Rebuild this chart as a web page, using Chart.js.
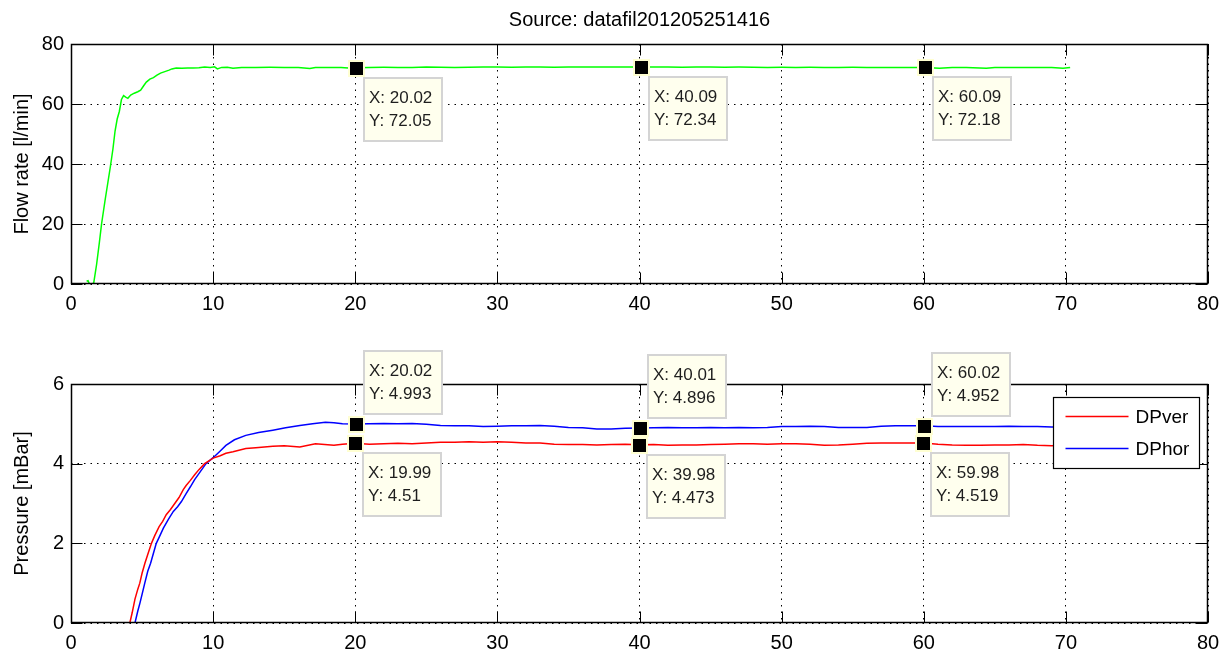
<!DOCTYPE html>
<html>
<head>
<meta charset="utf-8">
<script src="https://cdn.jsdelivr.net/npm/chart.js@4.4.0/dist/chart.umd.min.js"></script>
<style>
  html, body { margin: 0; padding: 0; background: #fff; }
  #wrap { position: relative; width: 1230px; height: 655px; }
  .panel { position: absolute; left: 0; width: 1230px; }
  #top-panel { top: 0; height: 320px; }
  #bottom-panel { top: 320px; height: 335px; }
</style>
</head>
<body>
<div id="wrap">
  <div class="panel" id="top-panel"><canvas id="flow-chart"></canvas></div>
  <div class="panel" id="bottom-panel"><canvas id="pressure-chart"></canvas></div>
</div>
<script>
const FONT = '"Liberation Sans", Arial, sans-serif';
const TITLE = "Source: datafil201205251416";

// flow rate (top)
const flowTime = [
  1.1, 1.2, 1.3, 1.5, 1.6, 1.8, 2.0, 2.15, 2.4, 2.6,
  2.75, 2.95, 3.1, 3.25, 3.4, 3.55, 3.7, 3.85, 4.0, 4.2,
  4.45, 4.7, 4.9, 5.1, 5.3, 5.55, 5.8, 6.05, 6.3, 6.6,
  6.9, 7.1, 7.4, 7.8, 8.2, 8.6, 9.0, 9.4, 9.8, 10.1,
  10.3, 10.6, 11, 11.4, 12, 13, 14, 15, 16, 16.8,
  17.2, 18, 19, 19.5, 20.02, 21, 22, 23, 24, 25,
  26, 27, 28, 29, 30, 31, 32, 33, 34, 35,
  36, 37, 38, 39, 40.09, 41, 42, 43, 44, 45,
  46, 47, 48, 49, 50, 51, 52, 53, 54, 55,
  56, 57, 58, 59, 60.09, 61.1, 62, 63, 64.4, 65,
  66, 67, 68, 69, 69.8, 70.3
];
const flowValues = [
  0.9, 1.1, 0, 0, 0.4, 6.5, 14, 20, 28, 34,
  38.5, 45, 51, 55, 57.5, 61.5, 62.8, 62.3, 61.9, 63.0,
  63.6, 64.1, 64.6, 66.0, 67.3, 68.3, 68.8, 69.6, 70.3, 70.8,
  71.3, 71.7, 72.0, 71.9, 72.0, 72.0, 72.1, 72.3, 72.2, 72.4,
  71.7, 72.2, 72.25, 71.9, 72.2, 72.2, 72.25, 72.2, 72.2, 71.8,
  72.2, 72.2, 72.15, 72.0, 72.05, 72.2, 72.25, 72.2, 72.2, 72.3,
  72.25, 72.2, 72.25, 72.3, 72.3, 72.25, 72.3, 72.3, 72.25, 72.3,
  72.3, 72.3, 72.35, 72.3, 72.34, 72.3, 72.3, 72.25, 72.3, 72.3,
  72.25, 72.3, 72.25, 72.2, 72.25, 72.2, 72.25, 72.2, 72.2, 72.25,
  72.2, 72.2, 72.15, 72.2, 72.18, 71.9, 72.2, 72.2, 71.9, 72.2,
  72.2, 72.2, 72.15, 72.2, 71.9, 72.2
];

// DPver (red)
const verTime = [
  4.14, 4.3, 4.5, 4.7, 4.84, 5.0, 5.2, 5.4, 5.66, 5.9,
  6.2, 6.45, 6.7, 7.0, 7.3, 7.6, 7.9, 8.1, 8.4, 8.7,
  9.0, 9.4, 9.7, 10, 10.5, 10.9, 11.4, 12.3, 13, 14.2,
  15, 16.1, 17.2, 18.5, 19.1, 19.99, 21, 22, 23, 24,
  25, 26, 27, 28, 29, 30, 31, 32, 33, 34,
  35, 36, 37, 38, 39, 39.98, 41, 42, 43, 44,
  45, 46, 47, 48, 49, 50, 51, 52, 53, 54,
  55, 56, 57, 58, 59, 59.98, 61, 62, 63, 64,
  65, 66, 67, 68, 69, 70, 70.5
];
const verValues = [
  0, 0.25, 0.6, 0.85, 1.0, 1.25, 1.5, 1.72, 2.0, 2.2,
  2.42, 2.55, 2.72, 2.85, 3.0, 3.15, 3.35, 3.45, 3.58, 3.72,
  3.85, 4.0, 4.07, 4.14, 4.2, 4.26, 4.3, 4.38, 4.4, 4.44,
  4.45, 4.42, 4.5, 4.46, 4.49, 4.51, 4.49, 4.5, 4.51, 4.5,
  4.52, 4.54, 4.54, 4.55, 4.54, 4.55, 4.54, 4.52, 4.52, 4.49,
  4.48, 4.48, 4.47, 4.48, 4.49, 4.473, 4.48, 4.46, 4.47, 4.47,
  4.48, 4.49, 4.5, 4.5, 4.49, 4.5, 4.5, 4.49, 4.46, 4.47,
  4.49, 4.51, 4.52, 4.52, 4.52, 4.519, 4.49, 4.47, 4.46, 4.46,
  4.47, 4.47, 4.48, 4.46, 4.45, 4.46, 4.46
];

// DPhor (blue)
const horTime = [
  4.5, 4.7, 4.85, 5.0, 5.19, 5.4, 5.6, 5.8, 6.0, 6.2,
  6.5, 6.85, 7.2, 7.5, 7.77, 8.1, 8.4, 8.7, 9.0, 9.5,
  10, 10.5, 10.9, 11.5, 12.3, 13.2, 14.2, 15.1, 16.1, 17,
  17.9, 18.5, 19.1, 20.02, 21, 22, 23, 24, 25, 26,
  27, 28, 29, 30, 31, 32, 33, 34, 35, 36,
  37, 38, 39, 40.01, 41, 42, 43, 44, 45, 46,
  47, 48, 49, 50, 51, 52, 53, 54, 55, 56,
  57, 58, 59, 60.02, 61, 62, 63, 64, 65, 66,
  67, 68, 69, 70, 70.5
];
const horValues = [
  0, 0.3, 0.5, 0.72, 1.0, 1.3, 1.5, 1.75, 2.0, 2.15,
  2.38, 2.6, 2.8, 2.92, 3.05, 3.25, 3.42, 3.6, 3.75, 4.0,
  4.15, 4.32, 4.46, 4.6, 4.71, 4.78, 4.84, 4.9, 4.96, 5.0,
  5.04, 5.03, 5.0, 4.993, 5.0, 5.01, 5.0, 5.01, 4.99, 4.96,
  4.95, 4.95, 4.93, 4.94, 4.95, 4.95, 4.96, 4.94, 4.91, 4.9,
  4.87, 4.87, 4.89, 4.896, 4.9, 4.91, 4.9, 4.9, 4.91, 4.9,
  4.91, 4.9, 4.91, 4.93, 4.93, 4.94, 4.93, 4.91, 4.91, 4.91,
  4.94, 4.95, 4.95, 4.952, 4.93, 4.93, 4.93, 4.93, 4.93, 4.94,
  4.93, 4.93, 4.92, 4.92, 4.92
];

// data tips
const flowTipX = [20.02, 40.09, 60.09];
const flowTipY = [72.05, 72.34, 72.18];
const horTipX = [20.02, 40.01, 60.02];
const horTipY = [4.993, 4.896, 4.952];
const verTipX = [19.99, 39.98, 59.98];
const verTipY = [4.51, 4.473, 4.519];

const fmt = (v) => String(Number(v.toPrecision(4)));
const toPoints = (xs, ys) => xs.map((x, i) => ({ x, y: ys[i] }));

// box + inward ticks on all four sides, like a matlab axes
const framePlugin = {
  id: "frame",
  afterDatasetsDraw(chart) {
    const { ctx, chartArea: a, scales } = chart;
    const L = Math.round(a.left) + 0.5, R = Math.round(a.right) - 0.5;
    const T = Math.round(a.top) + 0.5, B = Math.round(a.bottom) - 0.5;
    const len = 11;
    ctx.save();
    ctx.strokeStyle = "#000";
    ctx.lineWidth = 1;
    ctx.beginPath();
    scales.x.ticks.forEach((t) => {
      const px = Math.round(scales.x.getPixelForValue(t.value)) + 0.5;
      ctx.moveTo(px, B); ctx.lineTo(px, B - len);
      ctx.moveTo(px, T); ctx.lineTo(px, T + len);
    });
    scales.y.ticks.forEach((t) => {
      const py = Math.round(scales.y.getPixelForValue(t.value)) + 0.5;
      ctx.moveTo(L, py); ctx.lineTo(L + len, py);
      ctx.moveTo(R, py); ctx.lineTo(R - len, py);
    });
    ctx.stroke();
    ctx.lineWidth = 1.5;
    ctx.strokeRect(L, T, R - L, B - T);
    ctx.restore();
  },
};

// title centred over the axes box, not the canvas
const axesTitlePlugin = {
  id: "axesTitle",
  afterDraw(chart, args, opts) {
    if (!opts.text) return;
    const { ctx, chartArea: a } = chart;
    ctx.save();
    ctx.fillStyle = "#000";
    ctx.font = "20px " + FONT;
    ctx.textAlign = "center";
    ctx.textBaseline = "middle";
    ctx.fillText(opts.text, (a.left + a.right) / 2, a.top - 24);
    ctx.restore();
  },
};

const legendPlugin = {
  id: "boxLegend",
  afterDraw(chart, args, opts) {
    if (!opts.show) return;
    const { ctx, chartArea: a } = chart;
    const w = 146, h = 71;
    const left = Math.round(a.right - 9 - w) + 0.5;
    const top = Math.round(a.top + 13) + 0.5;
    ctx.save();
    ctx.fillStyle = "#fff";
    ctx.fillRect(left, top, w, h);
    ctx.strokeStyle = "#000";
    ctx.lineWidth = 1.2;
    ctx.strokeRect(left, top, w, h);
    ctx.font = "19px " + FONT;
    ctx.textBaseline = "middle";
    ctx.textAlign = "left";
    chart.data.datasets.forEach((ds, i) => {
      const y = Math.round(top + 18 + i * 32.5) + 0.5;
      ctx.strokeStyle = ds.borderColor;
      ctx.lineWidth = 1.5;
      ctx.beginPath();
      ctx.moveTo(left + 12, y);
      ctx.lineTo(left + 75, y);
      ctx.stroke();
      ctx.fillStyle = "#000";
      ctx.fillText(ds.label, left + 82, y + 1);
    });
    ctx.restore();
  },
};

const tipPlugin = {
  id: "datatips",
  afterDraw(chart, args, opts) {
    const { ctx, scales } = chart;
    ctx.save();
    (opts.sets || []).forEach((set) => {
      set.xs.forEach((xv, i) => {
        const yv = set.ys[i];
        const px = Math.round(scales.x.getPixelForValue(xv));
        const py = Math.round(scales.y.getPixelForValue(yv));
        ctx.fillStyle = "#ffffd2";
        ctx.fillRect(px - 8, py - 8, 17, 17);
        ctx.fillStyle = "#000";
        ctx.fillRect(px - 6, py - 6, 13, 13);
        const bw = 80, bh = 65;
        const left = px + 7;
        const top = set.side === "above" ? py - 9 - bh : py + 9;
        ctx.fillStyle = "#ffffee";
        ctx.fillRect(left, top, bw, bh);
        ctx.strokeStyle = "#d4d4d4";
        ctx.lineWidth = 2;
        ctx.strokeRect(left + 1, top + 1, bw - 2, bh - 2);
        ctx.fillStyle = "#1e1e1e";
        ctx.font = "17px " + FONT;
        ctx.textBaseline = "middle";
        ctx.textAlign = "left";
        ctx.fillText("X: " + fmt(xv), left + 6, top + 21);
        ctx.fillText("Y: " + fmt(yv), left + 6, top + 44);
      });
    });
    ctx.restore();
  },
};

const xAxis = (height) => ({
  type: "linear",
  min: 0,
  max: 80,
  ticks: { stepSize: 10, padding: 8, color: "#000", font: { size: 20 } },
  grid: { color: "#000", lineWidth: 1, drawTicks: false },
  border: { display: false, dash: [1.5, 5] },
  afterFit: (s) => { s.height = height; },
});

const yAxis = (max, step, label) => ({
  min: 0,
  max,
  ticks: { stepSize: step, padding: 7, color: "#000", font: { size: 20 } },
  grid: { color: "#000", lineWidth: 1, drawTicks: false },
  border: { display: false, dash: [1.5, 5] },
  title: { display: true, text: label, color: "#000", font: { size: 20 }, padding: { top: 10, bottom: 0 } },
  afterFit: (s) => { s.width = 71; },
});

const lineSet = (label, xs, ys, color) => ({
  label,
  data: toPoints(xs, ys),
  borderColor: color,
  borderWidth: 1.5,
  pointRadius: 0,
  tension: 0,
  fill: false,
});

Chart.defaults.font.family = FONT;

new Chart(document.getElementById("flow-chart"), {
  type: "line",
  data: { datasets: [lineSet("Flow", flowTime, flowValues, "#00ff00")] },
  options: {
    responsive: true,
    maintainAspectRatio: false,
    animation: false,
    layout: { padding: { left: 0, right: 22, top: 44, bottom: 0 } },
    plugins: {
      legend: { display: false },
      tooltip: { enabled: false },
      title: { display: false },
      axesTitle: { text: TITLE },
      datatips: { sets: [{ xs: flowTipX, ys: flowTipY, side: "below" }] },
      boxLegend: { show: false },
    },
    scales: { x: xAxis(36), y: yAxis(80, 20, "Flow rate [l/min]") },
  },
  plugins: [framePlugin, axesTitlePlugin, tipPlugin, legendPlugin],
});

new Chart(document.getElementById("pressure-chart"), {
  type: "line",
  data: {
    datasets: [
      lineSet("DPver", verTime, verValues, "#ff0000"),
      lineSet("DPhor", horTime, horValues, "#0000ff"),
    ],
  },
  options: {
    responsive: true,
    maintainAspectRatio: false,
    animation: false,
    layout: { padding: { left: 0, right: 22, top: 64, bottom: 0 } },
    plugins: {
      legend: { display: false },
      tooltip: { enabled: false },
      axesTitle: { text: "" },
      datatips: {
        sets: [
          { xs: horTipX, ys: horTipY, side: "above" },
          { xs: verTipX, ys: verTipY, side: "below" },
        ],
      },
      boxLegend: { show: true },
    },
    scales: { x: xAxis(32), y: yAxis(6, 2, "Pressure [mBar]") },
  },
  plugins: [framePlugin, legendPlugin, tipPlugin],
});
</script>
</body>
</html>
